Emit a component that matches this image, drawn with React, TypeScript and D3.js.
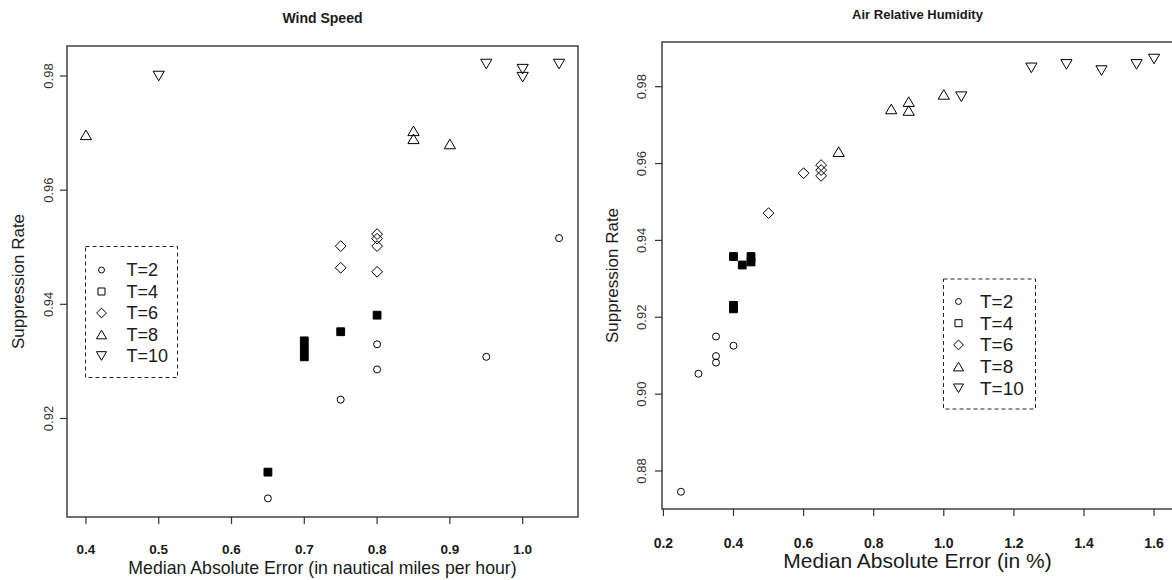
import React from "react";
import * as d3 from "d3";

// ---------- data ----------
const legendLabels = ["T=2", "T=4", "T=6", "T=8", "T=10"];
const shapeKinds = ["circle", "squareFilled", "diamond", "triUp", "triDown"];

const windT2X = [0.65, 0.75, 0.8, 0.8, 0.95, 1.05];
const windT2Y = [0.906, 0.9233, 0.9286, 0.933, 0.9308, 0.9516];
const windT4X = [0.65, 0.7, 0.7, 0.7, 0.75, 0.8];
const windT4Y = [0.9106, 0.9308, 0.9322, 0.9336, 0.9352, 0.9381];
const windT6X = [0.75, 0.75, 0.8, 0.8, 0.8, 0.8];
const windT6Y = [0.9502, 0.9464, 0.9523, 0.9515, 0.9502, 0.9457];
const windT8X = [0.4, 0.85, 0.85, 0.9];
const windT8Y = [0.9697, 0.9704, 0.969, 0.9681];
const windT10X = [0.5, 0.95, 1.0, 1.0, 1.05];
const windT10Y = [0.98, 0.9821, 0.9812, 0.9798, 0.9821];

const humT2X = [0.25, 0.3, 0.35, 0.35, 0.35, 0.4];
const humT2Y = [0.8746, 0.9053, 0.915, 0.9099, 0.9082, 0.9126];
const humT4X = [0.4, 0.4, 0.4, 0.425, 0.45, 0.45];
const humT4Y = [0.9358, 0.9231, 0.9222, 0.9336, 0.9358, 0.9344];
const humT6X = [0.5, 0.6, 0.65, 0.65, 0.65];
const humT6Y = [0.9471, 0.9575, 0.9596, 0.9583, 0.9568];
const humT8X = [0.7, 0.85, 0.9, 0.9, 1.0];
const humT8Y = [0.9631, 0.9742, 0.9761, 0.9738, 0.978];
const humT10X = [1.05, 1.25, 1.35, 1.45, 1.55, 1.6];
const humT10Y = [0.9774, 0.9849, 0.9858, 0.9842, 0.9858, 0.9872];

const windXTicks = [0.4, 0.5, 0.6, 0.7, 0.8, 0.9, 1.0];
const windYTicks = [0.92, 0.94, 0.96, 0.98];
const humXTicks = [0.2, 0.4, 0.6, 0.8, 1.0, 1.2, 1.4, 1.6];
const humYTicks = [0.88, 0.9, 0.92, 0.94, 0.96, 0.98];

const windSeries = [
  [windT2X, windT2Y],
  [windT4X, windT4Y],
  [windT6X, windT6Y],
  [windT8X, windT8Y],
  [windT10X, windT10Y],
];
const humSeries = [
  [humT2X, humT2Y],
  [humT4X, humT4Y],
  [humT6X, humT6Y],
  [humT8X, humT8Y],
  [humT10X, humT10Y],
];

// ---------- drawing helpers ----------
const FONT = "'Liberation Sans', Arial, sans-serif";
const INK = "#1a1a1a";

function shape(kind: string, k = 1) {
  if (kind === "circle") {
    const r = 3.5 * k;
    return `M${r},0A${r},${r} 0 1,1 ${-r},0A${r},${r} 0 1,1 ${r},0Z`;
  }
  if (kind === "squareFilled" || kind === "square") {
    const h = 3.9 * k;
    return `M${-h},${-h}H${h}V${h}H${-h}Z`;
  }
  if (kind === "diamond") {
    const h = 5.4 * k;
    return `M0,${-h}L${h},0L0,${h}L${-h},0Z`;
  }
  const w = 5.6 * k;
  const hh = 4.8 * k;
  if (kind === "triUp") return `M0,${-hh}L${w},${hh}L${-w},${hh}Z`;
  return `M0,${hh}L${w},${-hh}L${-w},${-hh}Z`;
}

type PanelProps = {
  title: string;
  xLabel: string;
  series: number[][][];
  xDomain: [number, number];
  yDomain: [number, number];
  box: { x0: number; x1: number; y0: number; y1: number };
  xTicks: number[];
  yTicks: number[];
  xFmt: string;
  yFmt: string;
  titleY: number;
  titleSize: number;
  xTickY: number;
  xTickSize: number;
  yTickX: number;
  yTickSize: number;
  xLabelY: number;
  xLabelSize: number;
  yLabelX: number;
  yLabelSize: number;
  legend: { x0: number; x1: number; y0: number; y1: number; symX: number; textX: number; rowY0: number; rowDy: number; fontSize: number };
};

function Panel(p: PanelProps) {
  const x = d3.scaleLinear().domain(p.xDomain).range([p.box.x0, p.box.x1]);
  const y = d3.scaleLinear().domain(p.yDomain).range([p.box.y1, p.box.y0]);
  const xf = d3.format(p.xFmt);
  const yf = d3.format(p.yFmt);
  const cx = (p.box.x0 + p.box.x1) / 2;
  const cy = (p.box.y0 + p.box.y1) / 2;
  const lg = p.legend;
  return (
    <g>
      <text x={cx} y={p.titleY} textAnchor="middle" fontFamily={FONT} fontWeight="bold" fontSize={p.titleSize} fill={INK}>
        {p.title}
      </text>
      <rect x={p.box.x0} y={p.box.y0} width={p.box.x1 - p.box.x0} height={p.box.y1 - p.box.y0} fill="none" stroke="#333" strokeWidth={1.4} />
      {p.xTicks.map((t) => (
        <g key={"xt" + t}>
          <line x1={x(t)} x2={x(t)} y1={p.box.y1} y2={p.box.y1 + 7} stroke="#333" strokeWidth={1.2} />
          <text x={x(t)} y={p.xTickY} textAnchor="middle" fontFamily={FONT} fontWeight="bold" fontSize={p.xTickSize} fill={INK}>
            {xf(t)}
          </text>
        </g>
      ))}
      {p.yTicks.map((t) => (
        <g key={"yt" + t}>
          <line x1={p.box.x0 - 7} x2={p.box.x0} y1={y(t)} y2={y(t)} stroke="#333" strokeWidth={1.2} />
          <text
            transform={`translate(${p.yTickX},${y(t)}) rotate(-90)`}
            textAnchor="middle"
            dominantBaseline="central"
            fontFamily={FONT}
            fontSize={p.yTickSize}
            fill="#333"
          >
            {yf(t)}
          </text>
        </g>
      ))}
      <text x={cx} y={p.xLabelY} textAnchor="middle" fontFamily={FONT} fontSize={p.xLabelSize} fill={INK}>
        {p.xLabel}
      </text>
      <text
        transform={`translate(${p.yLabelX},${cy}) rotate(-90)`}
        textAnchor="middle"
        dominantBaseline="central"
        fontFamily={FONT}
        fontSize={p.yLabelSize}
        fill={INK}
      >
        Suppression Rate
      </text>
      {p.series.map((s, si) =>
        s[0].map((xv, i) => (
          <path
            key={`m${si}-${i}`}
            d={shape(shapeKinds[si])}
            transform={`translate(${x(xv)},${y(s[1][i])})`}
            fill={shapeKinds[si] === "squareFilled" ? "#000" : "none"}
            stroke="#000"
            strokeWidth={1}
          />
        ))
      )}
      <rect
        x={lg.x0}
        y={lg.y0}
        width={lg.x1 - lg.x0}
        height={lg.y1 - lg.y0}
        fill="none"
        stroke="#222"
        strokeWidth={1}
        strokeDasharray="4,3"
      />
      {legendLabels.map((lab, i) => {
        const ry = lg.rowY0 + i * lg.rowDy;
        const kind = shapeKinds[i] === "squareFilled" ? "square" : shapeKinds[i];
        return (
          <g key={"lg" + i}>
            <path d={shape(kind, kind === "circle" ? 0.85 : 0.9)} transform={`translate(${lg.symX},${ry})`} fill="none" stroke="#000" strokeWidth={1} />
            <text x={lg.textX} y={ry} dominantBaseline="central" fontFamily={FONT} fontSize={lg.fontSize} fill={INK}>
              {lab}
            </text>
          </g>
        );
      })}
    </g>
  );
}

export default function App() {
  return (
    <svg
      width={1172}
      height={580}
      style={{ position: "absolute", left: 0, top: 0, background: "#fff" }}
    >
      <rect x={0} y={0} width={1172} height={580} fill="#fff" />
      <Panel
        title="Wind Speed"
        xLabel="Median Absolute Error (in nautical miles per hour)"
        series={windSeries}
        xDomain={[0.374, 1.076]}
        yDomain={[0.90274, 0.98526]}
        box={{ x0: 67, x1: 578, y0: 46, y1: 517 }}
        xTicks={windXTicks}
        yTicks={windYTicks}
        xFmt=".1f"
        yFmt=".2f"
        titleY={23}
        titleSize={14}
        xTickY={554}
        xTickSize={13.5}
        yTickX={48}
        yTickSize={13}
        xLabelY={574}
        xLabelSize={17.7}
        yLabelX={18}
        yLabelSize={17}
        legend={{ x0: 85.5, x1: 177.5, y0: 246.5, y1: 377.5, symX: 101.5, textX: 126.5, rowY0: 270, rowDy: 21.5, fontSize: 18 }}
      />
      <Panel
        title="Air Relative Humidity"
        xLabel="Median Absolute Error (in %)"
        series={humSeries}
        xDomain={[0.196, 1.654]}
        yDomain={[0.87011, 0.99163]}
        box={{ x0: 662, x1: 1173, y0: 42, y1: 509 }}
        xTicks={humXTicks}
        yTicks={humYTicks}
        xFmt=".1f"
        yFmt=".2f"
        titleY={19}
        titleSize={13}
        xTickY={548}
        xTickSize={14}
        yTickX={641}
        yTickSize={13}
        xLabelY={568}
        xLabelSize={21}
        yLabelX={612}
        yLabelSize={17}
        legend={{ x0: 943.5, x1: 1035.5, y0: 279, y1: 409, symX: 958.5, textX: 980, rowY0: 301.5, rowDy: 21.7, fontSize: 19 }}
      />
    </svg>
  );
}
